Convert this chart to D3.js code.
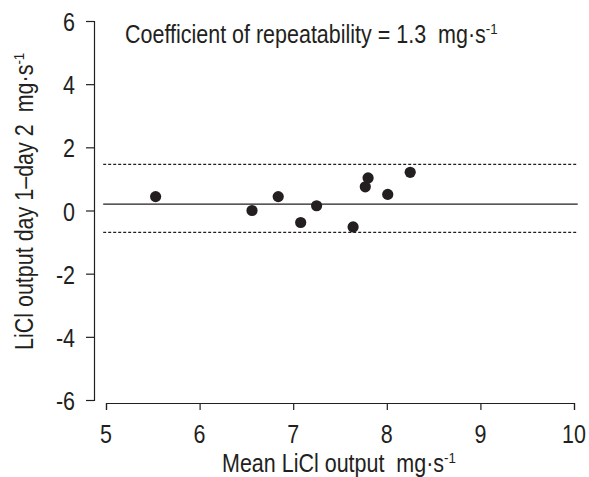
<!DOCTYPE html>
<html><head><meta charset="utf-8">
<script src="https://cdn.jsdelivr.net/npm/d3@7"></script>
<style>body{margin:0;background:#fff}svg text{font-family:"Liberation Sans",Arial,sans-serif;fill:#231f20;white-space:pre}</style>
</head><body><svg id="c" width="589" height="477"></svg>
<script>
const meanOutput = [5.53, 6.56, 6.84, 7.08, 7.25, 7.64, 7.77, 7.80, 8.01, 8.25];
const diffOutput = [0.44, 0.0, 0.44, -0.38, 0.15, -0.52, 0.75, 1.03, 0.51, 1.21];
const xTicks = [5, 6, 7, 8, 9, 10];
const yTicks = [-6, -4, -2, 0, 2, 4, 6];
const meanDiff = 0.2;
const limits = [1.46, -0.69];
const lineExtent = [4.97, 10.04];

const svg = d3.select("#c");
const x = d3.scaleLinear().domain([5, 10]).range([106, 574]);
const y = d3.scaleLinear().domain([-6, 6]).range([400, 21]);
const ink = "#231f20";
const FS = 25, SX = 0.86;

const xAxis = svg.append("g").attr("transform", "translate(0,403)")
  .call(d3.axisBottom(x).tickValues(xTicks).tickSize(7).tickFormat(""));
const yAxis = svg.append("g").attr("transform", "translate(94,0)")
  .call(d3.axisLeft(y).tickValues(yTicks).tickSize(8).tickFormat(""));
[xAxis, yAxis].forEach(g => {
  g.select(".domain").attr("stroke", ink).attr("stroke-width", 1.2);
  g.selectAll(".tick line").attr("stroke", ink).attr("stroke-width", 1.2);
});

svg.append("g").selectAll("text").data(xTicks).join("text")
  .attr("transform", d => `translate(${x(d)},443) scale(${SX},1)`)
  .attr("text-anchor", "middle").attr("font-size", FS).text(d => d);
svg.append("g").selectAll("text").data(yTicks).join("text")
  .attr("transform", d => `translate(75,${y(d) + 10}) scale(${SX},1)`)
  .attr("text-anchor", "end").attr("font-size", FS).text(d => d);

svg.append("line").attr("x1", x(lineExtent[0])).attr("x2", x(lineExtent[1]))
  .attr("y1", y(meanDiff)).attr("y2", y(meanDiff)).attr("stroke", ink).attr("stroke-width", 1.3);
limits.forEach(v => svg.append("line").attr("x1", x(lineExtent[0])).attr("x2", x(lineExtent[1]))
  .attr("y1", y(v)).attr("y2", y(v)).attr("stroke", ink).attr("stroke-width", 1.2)
  .attr("stroke-dasharray", "3,2"));

svg.append("g").selectAll("circle").data(meanOutput).join("circle")
  .attr("cx", d => x(d)).attr("cy", (d, i) => y(diffOutput[i])).attr("r", 5.6).attr("fill", ink);

function unitText(pre, px, py, rot) {
  const te = svg.append("text").attr("font-size", FS).attr("text-anchor", "start")
    .attr("transform", `translate(${px},${py})` + (rot ? ` rotate(${rot})` : "") + ` scale(${SX},1)`);
  te.append("tspan").text(pre + "mg·s");
  te.append("tspan").attr("dy", -FS * 0.38).attr("font-size", FS * 0.62).text("-1");
  return te;
}
unitText("Coefficient of repeatability = 1.3  ", 125, 43, 0);
unitText("Mean LiCl output  ", 222, 472, 0);
unitText("LiCl output day 1\u2013day 2  ", 33, 350, -90);
</script></body></html>
